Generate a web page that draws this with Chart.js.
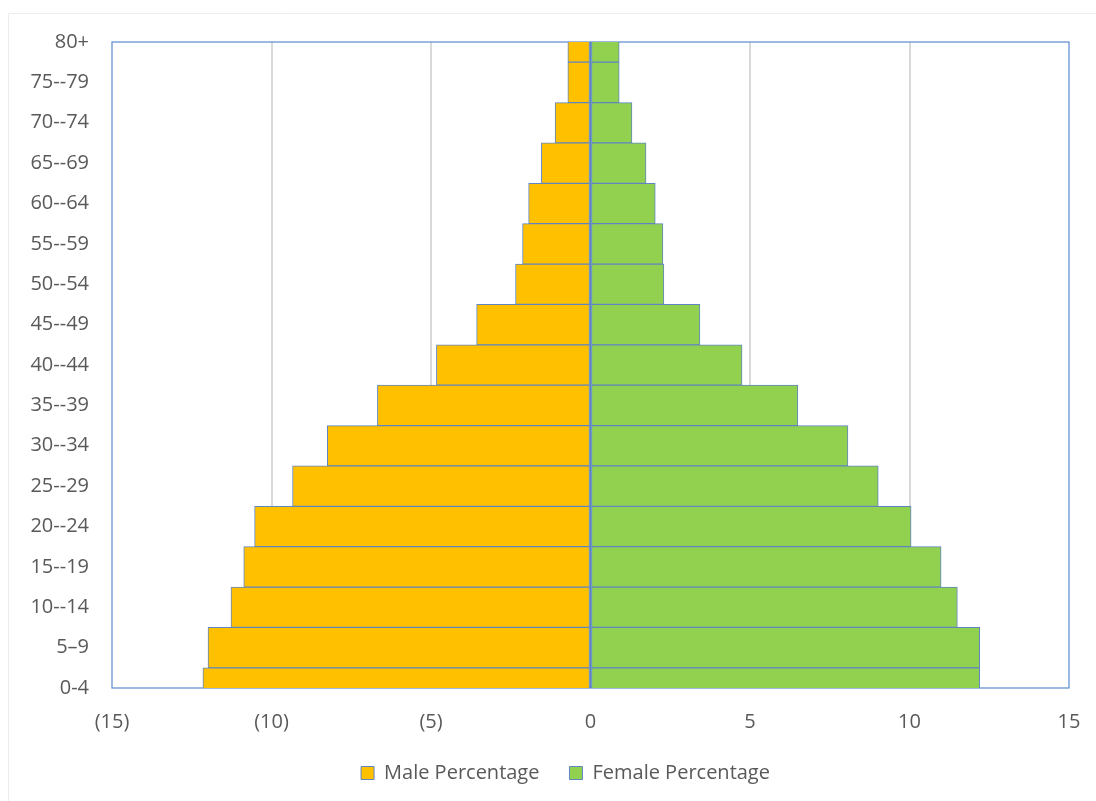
<!DOCTYPE html>
<html>
<head>
<meta charset="utf-8">
<script src="https://cdn.jsdelivr.net/npm/chart.js@4.4.1/dist/chart.umd.min.js"></script>
<style>
  html, body { margin: 0; padding: 0; background: #fff; }
  #wrap { width: 1096px; height: 801px; position: relative; }
</style>
</head>
<body>
<div id="wrap"><canvas id="pyramid"></canvas></div>
<script>
// age groups, top of the pyramid first
const ageGroups = ['80+', '75--79', '70--74', '65--69', '60--64', '55--59', '50--54', '45--49',
  '40--44', '35--39', '30--34', '25--29', '20--24', '15--19', '10--14', '5\u20139', '0-4'];

// share of population (%), same order as ageGroups
const malePct = [0.71, 0.71, 1.11, 1.54, 1.94, 2.13, 2.35, 3.57, 4.83, 6.68, 8.25, 9.34,
  10.53, 10.87, 11.27, 11.99, 12.15];
const femalePct = [0.9, 0.9, 1.3, 1.74, 2.03, 2.27, 2.3, 3.43, 4.75, 6.5, 8.07, 9.02,
  10.05, 10.99, 11.5, 12.2, 12.2];

const xTicks = [-15, -10, -5, 0, 5, 10, 15];

const labelColor = '#595959';
const edgeColor = '#5F86C2';

// plot frame, faint outer frame, zero line, legend nudge
const framePlugin = {
  id: 'framePlugin',
  afterLayout(chart) {
    // the legend sits a little right of the canvas centre
    const lg = chart.legend;
    if (lg) { lg.left += 31; lg.right += 31; }
  },
  beforeDraw(chart) {
    const ctx = chart.ctx;
    ctx.save();
    ctx.strokeStyle = '#ECECEC';
    ctx.lineWidth = 1;
    ctx.beginPath();
    ctx.moveTo(8.5, chart.height);
    ctx.lineTo(8.5, 13.5);
    ctx.lineTo(chart.width, 13.5);
    ctx.stroke();
    ctx.restore();
  },
  beforeDatasetsDraw(chart) {
    const a = chart.chartArea;
    const ctx = chart.ctx;
    ctx.save();
    ctx.strokeStyle = '#5B8BD0';
    ctx.lineWidth = 1.2;
    ctx.strokeRect(a.left, a.top, a.right - a.left, a.bottom - a.top);
    ctx.restore();
  },
  afterDatasetsDraw(chart) {
    const a = chart.chartArea;
    const ctx = chart.ctx;
    const x0 = chart.scales.x.getPixelForValue(0);
    ctx.save();
    ctx.strokeStyle = '#5A84C0';
    ctx.lineWidth = 2;
    ctx.beginPath();
    ctx.moveTo(x0, a.top);
    ctx.lineTo(x0, a.bottom);
    ctx.stroke();
    ctx.restore();
  }
};

new Chart(document.getElementById('pyramid'), {
  type: 'bar',
  data: {
    labels: ageGroups,
    datasets: [
      {
        label: 'Male Percentage',
        data: malePct.map(v => -v),
        backgroundColor: '#FFC000',
        borderColor: edgeColor,
        borderWidth: 1,
        borderSkipped: false
      },
      {
        label: 'Female Percentage',
        data: femalePct,
        backgroundColor: '#92D050',
        borderColor: edgeColor,
        borderWidth: 1,
        borderSkipped: false
      }
    ]
  },
  options: {
    indexAxis: 'y',
    responsive: true,
    maintainAspectRatio: false,
    animation: false,
    grouped: false,
    barPercentage: 1,
    categoryPercentage: 1,
    layout: {
      padding: { left: 0, right: 27, top: 42, bottom: 8 }
    },
    scales: {
      x: {
        min: -15,
        max: 15,
        afterBuildTicks: (scale) => {
          scale.ticks = xTicks.map(v => ({ value: v }));
        },
        afterFit: (scale) => {
          scale.height = 45;
          scale.paddingLeft = 0;
          scale.paddingRight = 0;
        },
        border: { display: false },
        grid: {
          drawTicks: false,
          lineWidth: 2,
          color: (c) => (c.tick && (c.tick.value === 0 || Math.abs(c.tick.value) === 15)) ? 'rgba(0,0,0,0)' : '#D9D9D9'
        },
        ticks: {
          padding: 22,
          color: labelColor,
          font: { family: 'Open Sans', size: 20 },
          callback: (v) => v < 0 ? '(' + (-v) + ')' : '' + v
        }
      },
      y: {
        offset: false,
        afterFit: (scale) => { scale.width = 112; },
        border: { display: false },
        grid: { display: false, drawTicks: false },
        ticks: {
          padding: 23,
          color: labelColor,
          autoSkip: false,
          font: { family: 'Open Sans', size: 20 }
        }
      }
    },
    plugins: {
      legend: {
        position: 'bottom',
        labels: {
          boxWidth: 13,
          boxHeight: 13,
          padding: 30,
          color: labelColor,
          font: { family: 'Open Sans', size: 20 }
        }
      },
      tooltip: { enabled: false }
    }
  },
  plugins: [framePlugin]
});
</script>
</body>
</html>
